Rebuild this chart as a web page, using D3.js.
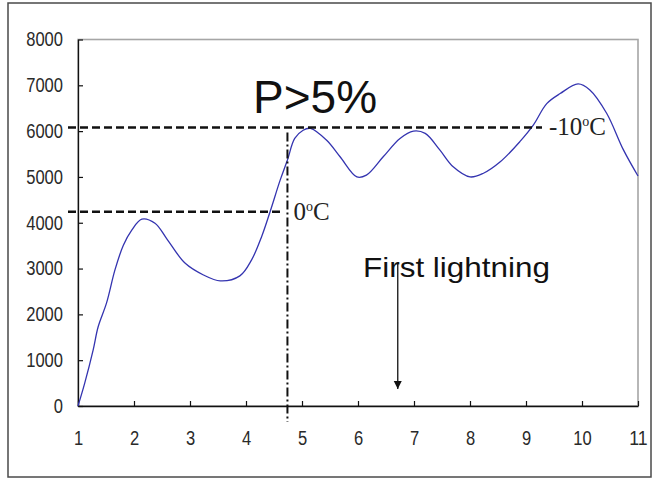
<!DOCTYPE html>
<html>
<head>
<meta charset="utf-8">
<script src="https://cdn.jsdelivr.net/npm/d3@7"></script>
<style>
  html, body { margin: 0; padding: 0; background: #fff; }
  svg { display: block; }
</style>
</head>
<body>
<svg id="chart" width="654" height="483"></svg>
<script>
// Curve samples: position along the x axis and the plotted value
const curveX = [1.00, 1.12, 1.27, 1.36, 1.51, 1.66, 1.81, 1.96, 2.14, 2.375, 2.58, 2.91, 3.24, 3.54, 3.89,
  4.10, 4.28, 4.43, 4.61, 4.74, 4.87, 5.02, 5.15, 5.44, 5.68, 5.98, 6.15, 6.45, 6.75, 6.99, 7.20,
  7.46, 7.70, 8.00, 8.24, 8.54, 8.89, 9.13, 9.37, 9.61, 9.93, 10.14, 10.44, 10.74, 11.00];
const curveY = [0, 500, 1220, 1730, 2250, 2970, 3510, 3840, 4080, 3990, 3660, 3120, 2860, 2730, 2840,
  3190, 3700, 4240, 4930, 5370, 5840, 6020, 6060, 5800, 5440, 5000, 5040, 5440, 5840, 6000, 5950,
  5590, 5220, 5000, 5080, 5330, 5770, 6130, 6600, 6820, 7030, 6900, 6390, 5590, 5020];

const xTicks = [1, 2, 3, 4, 5, 6, 7, 8, 9, 10, 11];
const yTicks = [0, 1000, 2000, 3000, 4000, 5000, 6000, 7000, 8000];

// Temperature levels (dashed horizontals) and the P>5% crossing
const levelNames = ["0", "-10"];
const levelValues = [4240, 6080];
const thresholdX = 4.74;
const thresholdLabel = "P>5%";

// First lightning marker
const lightningLabel = "First lightning";
const lightningX = 6.71;
const lightningFrom = 3000;
const lightningTo = 370;

(function () {
  const svg = d3.select("#chart");

  const plotLeft = 78, plotRight = 638, plotTop = 39.5, plotBottom = 406;
  const x = d3.scaleLinear().domain([1, 11]).range([plotLeft, plotRight]);
  const y = d3.scaleLinear().domain([0, 8000]).range([plotBottom, plotTop]);

  const serif = "'Liberation Serif', 'Times New Roman', serif";
  const sans = "'Liberation Sans', Arial, sans-serif";

  // Outer frame
  svg.append("rect")
    .attr("x", 8).attr("y", 3).attr("width", 643).attr("height", 474)
    .attr("fill", "none").attr("stroke", "#4a4a4a").attr("stroke-width", 1.5);

  // Plot box
  svg.append("rect")
    .attr("x", plotLeft).attr("y", plotTop).attr("width", plotRight - plotLeft).attr("height", plotBottom - plotTop)
    .attr("fill", "none").attr("stroke", "#a6a6a6").attr("stroke-width", 1.6);

  // Axes with inward ticks
  const yAxis = svg.append("g")
    .attr("transform", `translate(${plotLeft},0)`)
    .call(d3.axisLeft(y).tickValues(yTicks).tickSize(-5).tickSizeOuter(0).tickPadding(15).tickFormat(d3.format("d")));
  const xAxis = svg.append("g")
    .attr("transform", `translate(0,${plotBottom})`)
    .call(d3.axisBottom(x).tickValues(xTicks).tickSize(-5).tickSizeOuter(0).tickPadding(25).tickFormat(d3.format("d")));

  // Narrow digits for tick labels
  [yAxis, xAxis].forEach(g => {
    g.select(".domain").attr("stroke", "#111").attr("stroke-width", 1.3);
    g.selectAll(".tick line").attr("stroke", "#111").attr("stroke-width", 1.2);
    g.selectAll(".tick text")
      .attr("fill", "#2a2a2a")
      .style("font-family", sans).style("font-size", "20px")
      .attr("textLength", function () { return this.textContent.length * 9.2; })
      .attr("lengthAdjust", "spacingAndGlyphs");
  });

  // Data curve
  const pts = curveX.map((v, i) => [v, curveY[i]]);
  svg.append("path")
    .datum(pts)
    .attr("fill", "none")
    .attr("stroke", "#3434b0")
    .attr("stroke-width", 1.3)
    .attr("d", d3.line().x(d => x(d[0])).y(d => y(d[1])).curve(d3.curveCatmullRom.alpha(0.5)));

  // Temperature level lines
  const levelEnds = [x(thresholdX) - 4, 542];
  levelValues.forEach((v, i) => {
    svg.append("line")
      .attr("x1", 68).attr("x2", levelEnds[i])
      .attr("y1", y(v)).attr("y2", y(v))
      .attr("stroke", "#111").attr("stroke-width", 2.6)
      .attr("stroke-dasharray", "8,4");
  });

  // Level labels with superscript degree "o"
  const levelLabelX = [x(thresholdX) + 6, 549];
  levelValues.forEach((v, i) => {
    const t = svg.append("text")
      .attr("x", levelLabelX[i]).attr("y", y(v) + 8)
      .style("font-family", serif).style("font-size", "25px").attr("fill", "#222");
    t.append("tspan").text(levelNames[i]);
    t.append("tspan").attr("dy", -9).style("font-size", "14px").text("o");
    t.append("tspan").attr("dy", 9).text("C");
  });

  // Vertical dash-dot line at the threshold crossing
  svg.append("line")
    .attr("x1", x(thresholdX)).attr("x2", x(thresholdX))
    .attr("y1", y(levelValues[1]) + 5).attr("y2", plotBottom + 16)
    .attr("stroke", "#111").attr("stroke-width", 2)
    .attr("stroke-dasharray", "9,3,2,3");

  svg.append("text")
    .attr("x", 253).attr("y", 112.5)
    .style("font-family", sans).style("font-size", "46px").attr("fill", "#111")
    .text(thresholdLabel);

  // First lightning annotation with arrow
  svg.append("defs").append("marker")
    .attr("id", "arrowhead")
    .attr("viewBox", "0 0 10 10")
    .attr("refX", 10).attr("refY", 5)
    .attr("markerUnits", "userSpaceOnUse")
    .attr("markerWidth", 8).attr("markerHeight", 9)
    .attr("orient", "auto")
    .append("path").attr("d", "M0,0 L10,5 L0,10 Z").attr("fill", "#111");

  svg.append("line")
    .attr("x1", x(lightningX)).attr("x2", x(lightningX))
    .attr("y1", y(lightningFrom) - 6).attr("y2", y(lightningTo))
    .attr("stroke", "#111").attr("stroke-width", 1.3)
    .attr("marker-end", "url(#arrowhead)");

  svg.append("text")
    .attr("x", 363).attr("y", 277)
    .attr("textLength", 187).attr("lengthAdjust", "spacingAndGlyphs")
    .style("font-family", sans).style("font-size", "28px").attr("fill", "#111")
    .text(lightningLabel);
})();
</script>
</body>
</html>
